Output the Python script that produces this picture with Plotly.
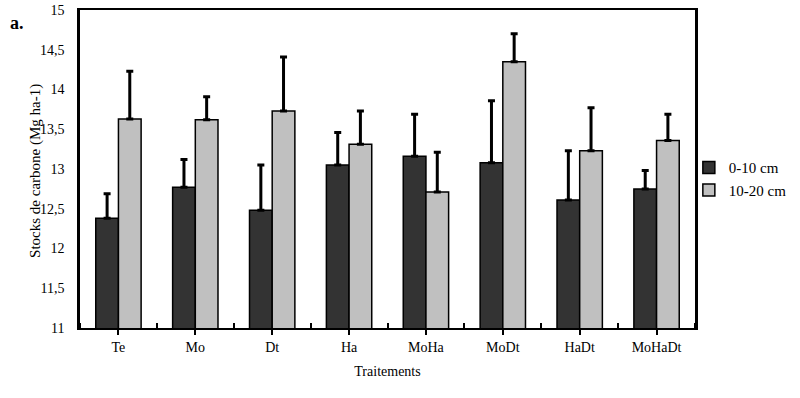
import plotly.graph_objects as go

categories = ["Te", "Mo", "Dt", "Ha", "MoHa", "MoDt", "HaDt", "MoHaDt"]
series_names = ["0-10 cm", "10-20 cm"]
values_0_10 = [12.38, 12.77, 12.48, 13.05, 13.16, 13.08, 12.61, 12.75]
errors_0_10 = [0.31, 0.35, 0.57, 0.41, 0.53, 0.78, 0.62, 0.23]
values_10_20 = [13.63, 13.62, 13.73, 13.31, 12.71, 14.35, 13.23, 13.36]
errors_10_20 = [0.60, 0.29, 0.68, 0.42, 0.50, 0.35, 0.54, 0.33]
y_ticks = [11, 11.5, 12, 12.5, 13, 13.5, 14, 14.5, 15]

FONT = "Liberation Serif, Times New Roman, serif"
xpos = list(range(len(categories)))

fig = go.Figure()
for name, vals, errs, color in [
    (series_names[0], values_0_10, errors_0_10, "#333333"),
    (series_names[1], values_10_20, errors_10_20, "#c0c0c0"),
]:
    fig.add_trace(go.Bar(
        x=xpos, y=vals, name=name,
        marker=dict(color=color, line=dict(color="black", width=1.5)),
        error_y=dict(type="data", array=errs, arrayminus=[0] * len(errs),
                     symmetric=False, color="black", thickness=3, width=3.5),
    ))

fig.update_layout(
    width=800, height=398,
    margin=dict(l=80, r=105, t=10, b=70, autoexpand=False),
    barmode="group", bargap=0.41, bargroupgap=0,
    plot_bgcolor="white", paper_bgcolor="white",
    separators=", ",
    font=dict(family=FONT, size=13, color="black"),
    showlegend=True,
    legend=dict(x=0.99, y=0.469, xanchor="left", yanchor="middle",
                traceorder="normal", tracegroupgap=0,
                font=dict(family=FONT, size=15), bgcolor="rgba(0,0,0,0)"),
    xaxis=dict(
        automargin=False,
        range=[-0.5, len(categories) - 0.5],
        tickmode="array", tickvals=xpos, ticktext=categories,
        ticks="outside", ticklen=5, tickwidth=2, tickcolor="black",
        minor=dict(tick0=0.5, dtick=1, ticks="inside", ticklen=5, tickwidth=1.5, tickcolor="black"),
        showline=True, linecolor="black", linewidth=2, mirror=True,
        showgrid=False, zeroline=False,
        tickfont=dict(family=FONT, size=14),
        title=dict(text="Traitements", font=dict(family=FONT, size=14), standoff=12),
    ),
    yaxis=dict(
        automargin=False,
        range=[11, 15], tickmode="array", tickvals=y_ticks,
        ticks="", showline=True, linecolor="black", linewidth=2.5, mirror=True,
        showgrid=False, zeroline=False, ticklabelstandoff=10,
        ticklabeloverflow="allow",
        tickfont=dict(family=FONT, size=14),
    ),
    annotations=[
        dict(text="<b>a.</b>", x=-0.102, y=0.96, xref="paper", yref="paper",
             xanchor="center", yanchor="middle", showarrow=False,
             font=dict(family=FONT, size=18)),
        dict(text="Stocks de carbone (Mg ha-1)", x=-0.0715, y=0.494, xref="paper", yref="paper",
             textangle=-90, xanchor="center", yanchor="middle", showarrow=False,
             font=dict(family=FONT, size=15)),
    ],
)

# remove the default 8px page margin so the 800x398 figure fills the window
fig.write_html("out.html",
               config={"displayModeBar": False},
               post_script="document.body.style.margin='0';document.body.style.overflow='hidden';")
